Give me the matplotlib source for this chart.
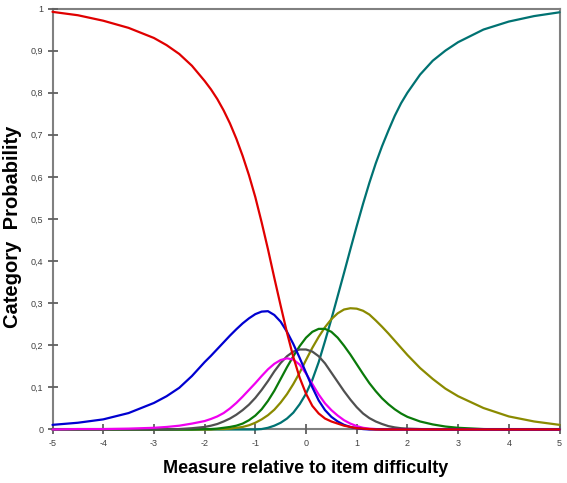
import matplotlib
matplotlib.use("Agg")
import matplotlib.pyplot as plt
from matplotlib.ticker import FuncFormatter

plt.rcParams["font.family"] = ["Liberation Sans", "DejaVu Sans"]

# Measure grid (logits) and category probabilities
measure = [-5, -4.5, -4, -3.5, -3, -2.75, -2.5, -2.25,
           -2, -1.875, -1.75, -1.625, -1.5, -1.375, -1.25, -1.125,
           -1, -0.875, -0.75, -0.625, -0.5, -0.375, -0.25, -0.125,
           0, 0.125, 0.25, 0.375, 0.5, 0.625, 0.75, 0.875,
           1, 1.125, 1.25, 1.375, 1.5, 1.625, 1.75, 1.875,
           2, 2.25, 2.5, 2.75, 3, 3.5, 4, 4.5, 5]

cat_red = [0.992, 0.984, 0.971, 0.954, 0.930, 0.913, 0.892, 0.864,
           0.828, 0.808, 0.785, 0.758, 0.727, 0.691, 0.650, 0.604,
           0.552, 0.492, 0.428, 0.360, 0.294, 0.230, 0.172, 0.123,
           0.085, 0.056, 0.038, 0.026, 0.019, 0.014, 0.009, 0.006,
           0.003, 0.002, 0.001, 0, 0, 0, 0, 0,
           0, 0, 0, 0, 0, 0, 0, 0, 0]
cat_blue = [0.011, 0.016, 0.024, 0.039, 0.063, 0.079, 0.099, 0.127,
            0.160, 0.175, 0.191, 0.207, 0.223, 0.238, 0.252, 0.264,
            0.274, 0.280, 0.281, 0.272, 0.256, 0.232, 0.203, 0.170,
            0.135, 0.100, 0.069, 0.046, 0.030, 0.019, 0.011, 0.006,
            0.003, 0.001, 0, 0, 0, 0, 0, 0,
            0, 0, 0, 0, 0, 0, 0, 0, 0]
cat_magenta = [0, 0.001, 0.001, 0.002, 0.004, 0.006, 0.009, 0.014,
               0.020, 0.025, 0.031, 0.039, 0.050, 0.063, 0.078, 0.094,
               0.110, 0.127, 0.143, 0.156, 0.165, 0.169, 0.166, 0.154,
               0.133, 0.108, 0.083, 0.062, 0.046, 0.033, 0.022, 0.014,
               0.008, 0.004, 0.002, 0.001, 0, 0, 0, 0,
               0, 0, 0, 0, 0, 0, 0, 0, 0]
cat_gray = [0, 0, 0, 0, 0, 0, 0.001, 0.003,
            0.006, 0.009, 0.013, 0.019, 0.026, 0.035, 0.046, 0.059,
            0.075, 0.094, 0.115, 0.138, 0.158, 0.174, 0.185, 0.190,
            0.190, 0.185, 0.174, 0.157, 0.135, 0.113, 0.091, 0.071,
            0.053, 0.038, 0.027, 0.019, 0.013, 0.008, 0.005, 0.003,
            0.002, 0.001, 0, 0, 0, 0, 0, 0, 0]
cat_green = [0, 0, 0, 0, 0, 0, 0, 0,
             0.001, 0.001, 0.002, 0.004, 0.006, 0.009, 0.014, 0.022,
             0.033, 0.048, 0.068, 0.092, 0.120, 0.148, 0.174, 0.198,
             0.218, 0.232, 0.239, 0.239, 0.232, 0.218, 0.199, 0.178,
             0.155, 0.132, 0.110, 0.091, 0.074, 0.060, 0.048, 0.038,
             0.030, 0.019, 0.012, 0.007, 0.004, 0.001, 0, 0, 0]
cat_olive = [0, 0, 0, 0, 0, 0, 0, 0,
             0, 0, 0.001, 0.001, 0.002, 0.004, 0.006, 0.010,
             0.016, 0.024, 0.034, 0.047, 0.064, 0.084, 0.108, 0.135,
             0.165, 0.194, 0.220, 0.243, 0.262, 0.276, 0.285, 0.288,
             0.287, 0.282, 0.273, 0.259, 0.244, 0.228, 0.211, 0.194,
             0.177, 0.146, 0.120, 0.097, 0.079, 0.051, 0.031, 0.019, 0.011]
cat_teal = [0, 0, 0, 0, 0, 0, 0, 0,
            0, 0, 0, 0, 0, 0, 0, 0,
            0, 0.001, 0.004, 0.009, 0.016, 0.026, 0.040, 0.060,
            0.085, 0.118, 0.160, 0.210, 0.262, 0.317, 0.372, 0.428,
            0.483, 0.536, 0.586, 0.632, 0.673, 0.710, 0.745, 0.775,
            0.800, 0.843, 0.876, 0.900, 0.920, 0.950, 0.969, 0.982, 0.991]

x_ticks = [-5, -4, -3, -2, -1, 0, 1, 2, 3, 4, 5]
y_ticks = [0, 0.1, 0.2, 0.3, 0.4, 0.5, 0.6, 0.7, 0.8, 0.9, 1]

# drawing order: last one ends up on top
series = [
    (cat_teal, "#007272"),
    (cat_olive, "#8a8a00"),
    (cat_green, "#0a7a0a"),
    (cat_gray, "#505050"),
    (cat_magenta, "#f000f0"),
    (cat_blue, "#0000d0"),
    (cat_red, "#e00000"),
]

fig = plt.figure(figsize=(5.67, 4.83), dpi=100)
ax = fig.add_axes([0.0926, 0.1108, 0.8942, 0.8716])

for vals, col in series:
    ax.plot(measure, vals, color=col, lw=1.6, solid_capstyle="round",
            solid_joinstyle="round", clip_on=False)

ax.set_xlim(-5, 5)
ax.set_ylim(0, 1)
ax.set_xticks(x_ticks)
ax.set_yticks(y_ticks)


def comma_fmt(v, pos):
    if abs(v - round(v)) < 1e-9:
        return "%d" % round(v)
    return ("%.1f" % v).replace(".", ",")


ax.yaxis.set_major_formatter(FuncFormatter(comma_fmt))
ax.xaxis.set_major_formatter(FuncFormatter(comma_fmt))

for s in ax.spines.values():
    s.set_color("#808080")
    s.set_linewidth(1.5)
    s.set_zorder(1)

ax.tick_params(direction="inout", length=7, width=1.3, color="#606060",
               labelsize=6.5, labelcolor="#404040", pad=3)

fig.text(0.5388, 1 - 473 / 483, "Measure relative to item difficulty",
         fontsize=13, fontweight="bold", ha="center", va="baseline")
fig.text(12.5 / 567, 1 - 226.5 / 483, "Category  Probability",
         fontsize=14.5, fontweight="bold", rotation=90, ha="center", va="center")

plt.savefig("out.png", dpi=100)
